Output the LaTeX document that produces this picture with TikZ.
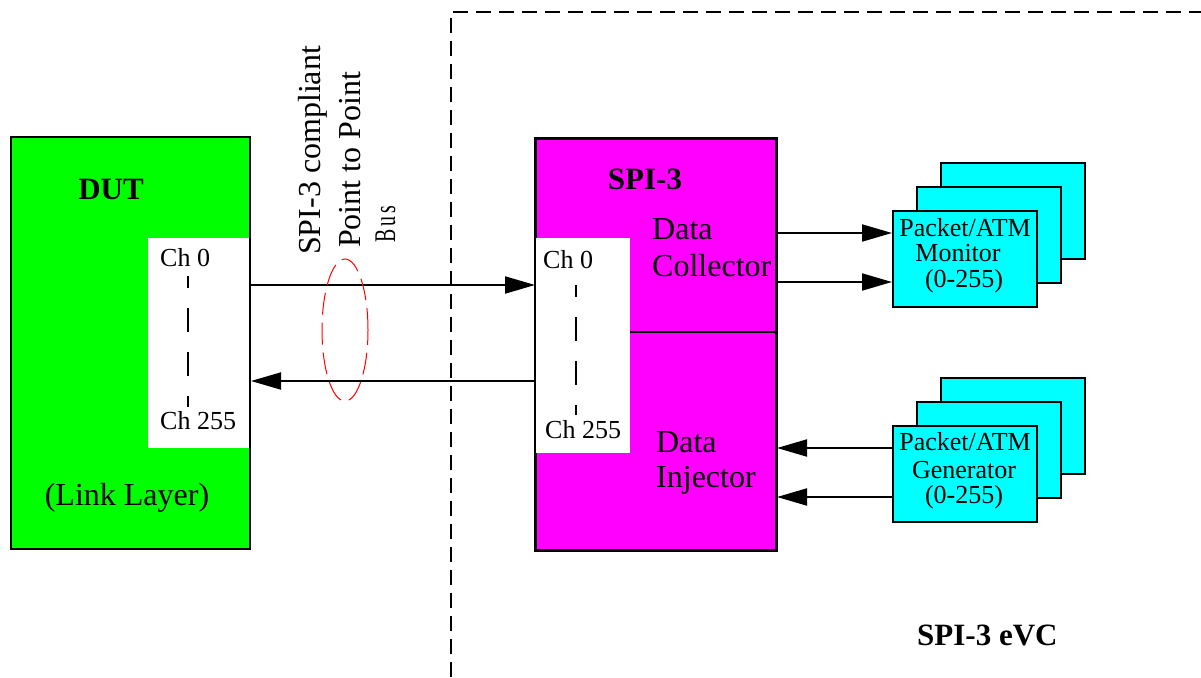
\documentclass[tikz,border=0pt]{standalone}
\usepackage{fontspec}
\setmainfont{Liberation Serif}
\usetikzlibrary{arrows.meta}
\definecolor{dutgreen}{RGB}{0,255,0}
\definecolor{spimag}{RGB}{255,0,255}
\definecolor{gencyan}{RGB}{0,255,255}
\newcommand{\fs}[1]{\fontsize{#1}{#1}\selectfont}
\tikzset{
  block/.style={draw=black, line width=2pt, minimum width=#1, anchor=north west, inner sep=0pt},
  chanbox/.style={fill=white, draw=none, anchor=north west, inner sep=0pt},
  unit/.style={draw=black, line width=2pt, fill=gencyan, minimum width=144pt, minimum height=96pt, anchor=north west, inner sep=0pt},
  lbl/.style={inner sep=0pt, font=\fs{32}},
  chlbl/.style={inner sep=0pt, anchor=base west, font=\fs{26}},
  unitlbl/.style={inner sep=0pt, anchor=base, font=\fs{26}},
  arr/.style={line width=2pt, -{Triangle[length=30pt,width=17pt]}},
  chdash/.style={line width=2pt, dash pattern=on 24pt off 20pt, dash phase=12pt},
}
\begin{document}
\begin{tikzpicture}[x=1pt, y=-1pt]
\useasboundingbox (0,0) rectangle (1201,677);

% eVC boundary
\draw[line width=2pt, dash pattern=on 15pt off 8pt] (451,677) -- (451,12) -- (1201,12);

% DUT block
\node[block=239pt, minimum height=412pt, fill=dutgreen] (dut) at (10,136) {};
\node[chanbox, minimum width=101pt, minimum height=210pt] (dutch) at (148,238) {};
\node[lbl, anchor=base, font=\fs{31}\bfseries] (duttitle) at (111,199) {DUT};
\node[chlbl] (dutc0) at (160,266) {Ch 0};
\node[chlbl] (dutc255) at (160,429) {Ch 255};
\node[lbl, anchor=base] (link) at (127,505) {(Link Layer)};
\draw[chdash] (188,276) -- (188,407);

% SPI-3 block
\node[block=240pt, minimum height=411pt, fill=spimag] (spi) at (535,138) {};
\node[chanbox, minimum width=94pt, minimum height=215pt] (spich) at (536,238) {};
\draw[line width=2pt] (spich.east |- 0,332) -- (spi.east |- 0,332);
\node[lbl, anchor=base, font=\fs{31}\bfseries] (spititle) at (645,189) {SPI-3};
\node[lbl, anchor=base west] (col1) at (652,239) {Data};
\node[lbl, anchor=base west] (col2) at (652,276) {Collector};
\node[lbl, anchor=base west] (inj1) at (656,452) {Data};
\node[lbl, anchor=base west] (inj2) at (656,487) {Injector};
\node[chlbl] (spic0) at (543,268) {Ch 0};
\node[chlbl] (spic255) at (545,438) {Ch 255};
\draw[chdash] (576,285) -- (576,415);
\draw[line width=2pt] (spi.north west) rectangle (spi.south east);

% point to point bus
\draw[arr] (dut.east |- 0,285) -- (spi.west |- 0,285);
\draw[arr] (spi.west |- 0,381) -- (dut.east |- 0,381);
\draw[red, line width=1pt, dash pattern=on 22pt off 8pt] (345,330) ellipse [x radius=23pt, y radius=71pt];
\node[lbl, rotate=90, anchor=base west] (bus1) at (320,255) {SPI-3 compliant};
\node[lbl, rotate=90, anchor=base west] (bus2) at (360,248) {Point to Point};
\node[lbl, rotate=90, anchor=base west, font=\fs{30}] (bus3) at (395,243) {\scalebox{0.66}[1]{B\,u\,s}};

% monitor stack
\node[unit] (mon3) at (940,162) {};
\node[unit] (mon2) at (916,186) {};
\node[unit] (mon) at (892,210) {};
\node[unitlbl] (monl1) at (965,236) {Packet/ATM};
\node[unitlbl] (monl2) at (958,261) {Monitor};
\node[unitlbl] (monl3) at (964,287) {(0-255)};
\draw[arr] (spi.east |- 0,233) -- (mon.west |- 0,233);
\draw[arr] (spi.east |- 0,282) -- (mon.west |- 0,282);

% generator stack
\node[unit] (gen3) at (940,377) {};
\node[unit] (gen2) at (916,401) {};
\node[unit] (gen) at (892,425) {};
\node[unitlbl] (genl1) at (965,450) {Packet/ATM};
\node[unitlbl] (genl2) at (964,478) {Generator};
\node[unitlbl] (genl3) at (964,503) {(0-255)};
\draw[arr] (gen.west |- 0,448) -- (spi.east |- 0,448);
\draw[arr] (gen.west |- 0,497) -- (spi.east |- 0,497);

% eVC caption
\node[lbl, anchor=base west, font=\fs{31}\bfseries] (evc) at (917,645) {SPI-3 eVC};
\end{tikzpicture}
\end{document}
